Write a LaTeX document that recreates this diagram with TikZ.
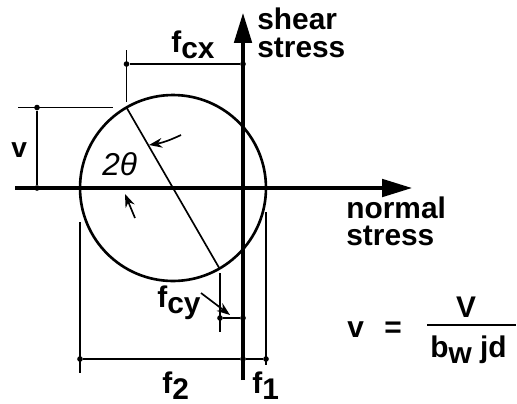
\documentclass[tikz,border=0pt]{standalone}
\usepackage{fontspec}
\setmainfont{Liberation Sans}
\usetikzlibrary{arrows.meta,calc,positioning}
\tikzset{
  axis/.style={
    line width=1.8pt,
    -{Triangle[length=17pt,width=10pt]}
  },
  mohr/.style={
    line width=1.5pt
  },
  dimline/.style={
    line width=0.95pt
  },
  dimdot/.style={
    shape=circle,
    fill,
    inner sep=0pt,
    minimum size=3.2pt
  },
  pointer/.style={
    line width=0.95pt,
    -{Stealth[length=7.5pt,width=5.5pt]}
  },
  lbl/.style={
    anchor=base west,
    font=\fontsize{17}{17}\selectfont\bfseries,
    inner sep=0pt
  },
  twolines/.style={
    anchor=north west,
    align=left,
    inner sep=0pt
  }
}
\newcommand{\lowsub}[1]{\raisebox{-0.4ex}{#1}}

\begin{document}
\begin{tikzpicture}[x=0.02cm, y=-0.02cm]
    \useasboundingbox (0,0) rectangle (517,403);
    % axes
    \coordinate (O) at (243,188);
    \coordinate (xstart) at (15,188);
    \coordinate (xend) at (412,188);
    \coordinate (ystart) at (243,380);
    \coordinate (yend) at (243,13);
    \draw[axis] (xstart) -- (xend);
    \draw[axis] (ystart) -- (yend);
    % Mohr circle and diameter
    \coordinate (C) at (173,188);
    \coordinate (P) at (126.5,107.5);
    \coordinate (Q) at (219.5,268.5);
    \draw[mohr] (C) circle [radius=1.86cm];
    \draw[dimline] (P) -- (Q);
    % angle 2theta
    \coordinate (arcA) at (181,135);
    \coordinate (arcB) at (149,145);
    \coordinate (arcC) at (135,218);
    \coordinate (arcD) at (125,194);
    \draw[pointer] (arcA) to[bend left=8] (arcB);
    \draw[pointer] (arcC) -- (arcD);
    \node[lbl, font=\fontsize{18}{18}\selectfont\itshape] (twotheta) at (102,175) {2θ};
    % f_cx
    \coordinate (fcxtop) at (126.5,50);
    \coordinate (fcxbot) at (126.5,102);
    \draw[dimline] (fcxtop) -- (fcxbot);
    \node[dimdot] (fcxL) at (126.5,64) {};
    \node[dimdot] (fcxR) at (243,64) {};
    \draw[dimline] (fcxL) -- (fcxR);
    \node[lbl] (fcx) at (171,52) {f\lowsub{cx}};
    % v
    \coordinate (vleft) at (18,107.5);
    \coordinate (vright) at (113,107.5);
    \draw[dimline] (vleft) -- (vright);
    \node[dimdot] (vtop) at (37,107.5) {};
    \node[dimdot] (vbot) at (37,188) {};
    \draw[dimline] (vtop) -- (vbot);
    \node[lbl, font=\fontsize{16}{16}\selectfont\bfseries] (vlbl) at (11,157) {v};
    % f_cy
    \coordinate (fcytop) at (220,273);
    \coordinate (fcybot) at (220,332);
    \draw[dimline] (fcytop) -- (fcybot);
    \node[dimdot] (fcyL) at (220,318) {};
    \node[dimdot] (fcyR) at (243,318) {};
    \draw[dimline] (fcyL) -- (fcyR);
    \node[lbl] (fcy) at (157,307) {f\lowsub{cy}};
    \coordinate (fcylead) at (201,293);
    \coordinate (fcytip) at (230,315);
    \draw[pointer] (fcylead) -- (fcytip);
    % f_2 and f_1
    \coordinate (ftwotop) at (80,222);
    \coordinate (ftwobot) at (80,373);
    \draw[dimline] (ftwotop) -- (ftwobot);
    \coordinate (fonetop) at (266,212);
    \coordinate (fonebot) at (266,365);
    \draw[dimline] (fonetop) -- (fonebot);
    \node[dimdot] (ftwoL) at (80,359) {};
    \node[dimdot] (fmid) at (243,359) {};
    \node[dimdot] (foneR) at (266,359) {};
    \draw[dimline] (ftwoL) -- (fmid) -- (foneR);
    \node[lbl] (ftwo) at (162,393) {f\lowsub{2}};
    \node[lbl] (fone) at (252,393) {f\lowsub{1}};
    % axis labels
    \node[twolines, font=\fontsize{17}{15.5}\selectfont\bfseries] (shear) at (257,8) {shear\\stress};
    \node[twolines, font=\fontsize{17}{15.5}\selectfont\bfseries] (normal) at (346,196) {normal\\stress};
    % v = V / (b_w jd)
    \node[lbl] (veq) at (347,337) {v};
    \node[lbl] (eqsign) at (384,337) {=};
    \node[lbl, anchor=base] (num) at (466,317) {V};
    \node[lbl] (den) at (430,357) {b\lowsub{w} jd};
    \coordinate (fracL) at (427,325);
    \coordinate (fracR) at (516,325);
    \draw[line width=1.1pt] (fracL) -- (fracR);
\end{tikzpicture}
\end{document}
